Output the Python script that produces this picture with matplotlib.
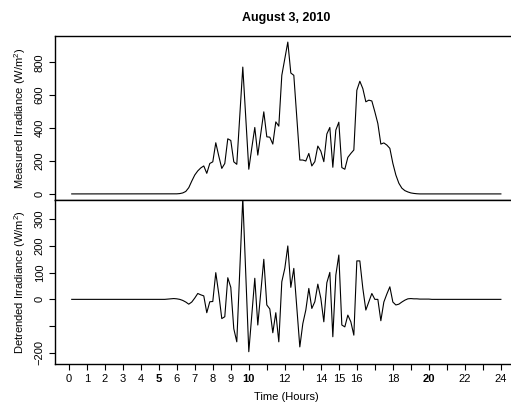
import numpy as np
import matplotlib
matplotlib.use("Agg")
import matplotlib.pyplot as plt

plt.rcParams['font.family'] = ['Liberation Sans', 'DejaVu Sans']
plt.rcParams['mathtext.fontset'] = 'custom'
plt.rcParams['mathtext.rm'] = 'Liberation Sans'
plt.rcParams['mathtext.it'] = 'Liberation Sans:italic'

# 10-minute samples, 00:10 .. 24:00
hours = np.arange(10, 1441, 10) / 60

measured = [
    0, 0, 0, 0, 0, 0, 0, 0, 0, 0, 0, 0,
    0, 0, 0, 0, 0, 0, 0, 0, 0, 0, 0, 0,
    0, 0, 0, 0, 0, 0, 0, 0, 0, 0, 0, 0.5,
    2, 6, 15, 38, 78, 115, 140, 158, 170, 125, 185, 195,
    311, 230, 155, 185, 335, 325, 195, 180, 475, 771, 460, 150,
    280, 404, 236, 370, 499, 347, 345, 303, 438, 412, 721, 822,
    923, 735, 721, 460, 206, 206, 200, 246, 170, 196, 291, 260,
    196, 364, 404, 162, 388, 436, 160, 150, 222, 246, 267, 630,
    685, 640, 560, 570, 565, 499, 428, 303, 310, 297, 277, 186,
    115, 65, 35, 20, 12, 6, 3, 1, 0, 0, 0, 0,
    0, 0, 0, 0, 0, 0, 0, 0, 0, 0, 0, 0,
    0, 0, 0, 0, 0, 0, 0, 0, 0, 0, 0, 0,
]

detrended = [
    0, 0, 0, 0, 0, 0, 0, 0, 0, 0, 0, 0,
    0, 0, 0, 0, 0, 0, 0, 0, 0, 0, 0, 0,
    0, 0, 0, 0, 0, 0, 0, 0, 1, 2, 3, 2,
    0, -4, -10, -18, -10, 5, 22, 17, 13, -50, -9, -8,
    100, 20, -72, -65, 81, 45, -110, -159, 110, 380, 90, -196,
    -60, 79, -96, 27, 150, -21, -36, -125, -50, -159, 66, 116,
    200, 45, 116, -30, -178, -91, -40, 41, -34, -9, 57, 4,
    -84, 62, 101, -140, 91, 166, -96, -103, -59, -84, -134, 144,
    144, 41, -40, -9, 22, 0, 0, -80, -10, 20, 47, -10,
    -21, -18, -10, -3, 2, 3, 2, 2, 1, 1, 1, 1,
    0, 0, 0, 0, 0, 0, 0, 0, 0, 0, 0, 0,
    0, 0, 0, 0, 0, 0, 0, 0, 0, 0, 0, 0,
]

xticks = list(range(0, 25))
xlabels = ['0', '1', '2', '3', '4', '5', '6', '7', '8', '9', '10', '',
           '12', '', '14', '15', '16', '', '18', '', '20', '', '22', '', '24']
bold_hours = ['5', '10', '20']
top_yticks = [0, 200, 400, 600, 800]
bot_yticks = [-200, -100, 0, 100, 200, 300]
bot_ylabels = ['\u2212200', '', '0', '100', '200', '300']

W, H = 511, 407
fig = plt.figure(figsize=(W / 100, H / 100), dpi=100)
left, right = 54.5, 518
ax1 = fig.add_axes([left / W, 1 - 200 / H, (right - left) / W, 164 / H])
ax2 = fig.add_axes([left / W, 1 - 364 / H, (right - left) / W, 164 / H])

xlim = (-0.79, 24.95)
ax1.plot(hours, measured, color='black', lw=0.8)
ax1.set_xlim(*xlim)
ax1.set_ylim(-37, 960)
ax1.set_xticks([])
ax1.set_yticks(top_yticks)
ax1.set_yticklabels([str(v) for v in top_yticks], rotation=90, va='center')
ax1.set_ylabel('Measured Irradiance (W/m$^2$)', fontsize=8, labelpad=5)
ax1.set_title('August 3, 2010', fontsize=9, fontweight='bold', pad=11)

ax2.plot(hours, detrended, color='black', lw=0.8)
ax2.set_xlim(*xlim)
ax2.set_ylim(-242, 372)
ax2.set_yticks(bot_yticks)
ax2.set_yticklabels(bot_ylabels, rotation=90, va='center')
ax2.set_xticks(xticks)
ax2.set_xticklabels(xlabels)
for lab in ax2.get_xticklabels():
    if lab.get_text() in bold_hours:
        lab.set_fontweight('bold')
ax2.set_ylabel('Detrended Irradiance (W/m$^2$)', fontsize=8, labelpad=5)
ax2.set_xlabel('Time (Hours)', fontsize=8, labelpad=6)

for ax in (ax1, ax2):
    ax.tick_params(labelsize=8, length=4, width=0.8, direction='out', pad=3)
    for s in ax.spines.values():
        s.set_linewidth(1.0)

fig.savefig('out.png', dpi=100)
